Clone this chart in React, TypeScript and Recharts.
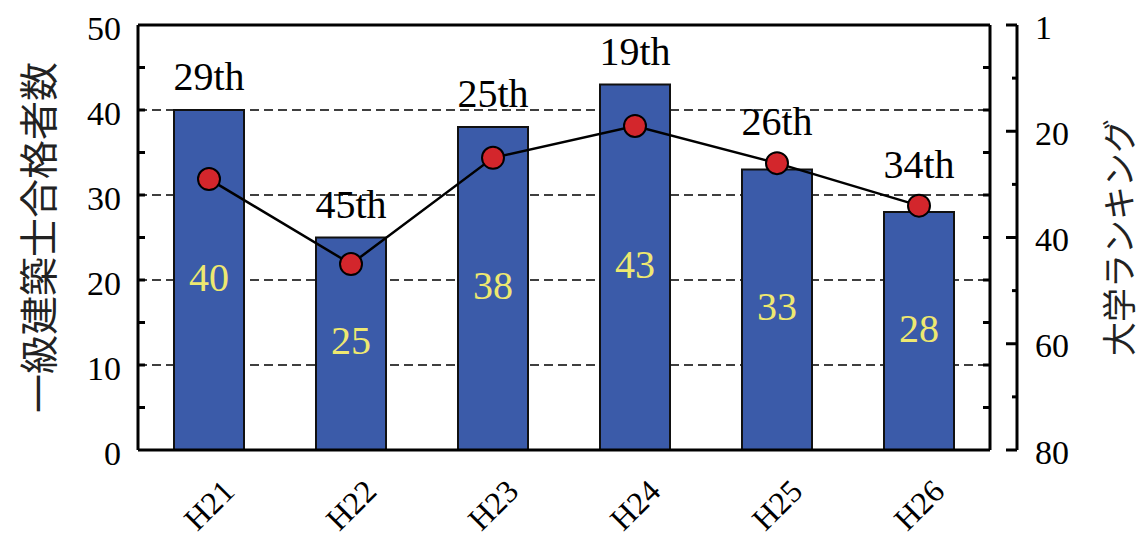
import React from 'react';
import {
  ComposedChart,
  Bar,
  Line,
  XAxis,
  YAxis,
  CartesianGrid,
  LabelList,
  ReferenceLine,
  Label,
} from 'recharts';

// ---- data ----
const years = ['H21', 'H22', 'H23', 'H24', 'H25', 'H26'];
const passers = [40, 25, 38, 43, 33, 28];
const ranks = [29, 45, 25, 19, 26, 34];
const rankLabels = ['29th', '45th', '25th', '19th', '26th', '34th'];

const leftTicks = [0, 5, 10, 15, 20, 25, 30, 35, 40, 45, 50];
const gridValues = [10, 20, 30, 40];
const rankTicks = [0, 10, 20, 30, 40, 50, 60, 70, 80];
const rankTickLabels: Record<number, string> = { 0: '1', 20: '20', 40: '40', 60: '60', 80: '80' };

const LEFT_MAX = 50;
const RANK_MAX = 80;

const leftTitle = '一級建築士合格者数';
const rightTitle = '大学ランキング';

const data = years.map((y, i) => ({ year: y, passers: passers[i], rank: ranks[i] }));

// ---- styles ----
const SERIF = "'Liberation Serif', 'DejaVu Serif', serif";
const CJK = "'Noto Sans CJK JP', sans-serif";
const BAR_FILL = '#3B5BA9';
const YELLOW = '#EEE870';
const RED = '#D3262C';
const MARKER_R = 11;

const serifStyle = (size: number): React.CSSProperties => ({ fontFamily: SERIF, fontSize: size });

const LeftTick = (props: any) => {
  const { x, y, payload } = props;
  const v = payload.value;
  const major = v % 10 === 0;
  return (
    <g>
      {v > 0 && v < LEFT_MAX && <line x1={x} x2={x + 7} y1={y} y2={y} stroke="#000" strokeWidth={3} />}
      {major && (
        <text x={x - 17} y={y + 3} textAnchor="end" dominantBaseline="central" style={serifStyle(34)} fill="#000">
          {v}
        </text>
      )}
    </g>
  );
};

const FrameRightTick = (props: any) => {
  const { x, y, payload } = props;
  const v = payload.value;
  if (v <= 0 || v >= LEFT_MAX) return <g />;
  return <line x1={x - 7} x2={x} y1={y} y2={y} stroke="#000" strokeWidth={3} />;
};

const RankTick = (props: any) => {
  const { x, y, payload } = props;
  const v = payload.value;
  const major = v % 20 === 0;
  const lbl = rankTickLabels[v];
  return (
    <g>
      <line x1={x - (major ? 11 : 5)} x2={x} y1={y} y2={y} stroke="#000" strokeWidth={3} />
      {lbl !== undefined && (
        <text x={x + 18} y={y + 2} textAnchor="start" dominantBaseline="central" style={serifStyle(34)} fill="#000">
          {lbl}
        </text>
      )}
    </g>
  );
};

const XTick = (props: any) => {
  const { x, y, payload } = props;
  const cy = y + 55;
  return (
    <text
      x={x}
      y={cy}
      textAnchor="middle"
      dominantBaseline="central"
      transform={`rotate(-45, ${x}, ${cy})`}
      style={serifStyle(32)}
      fill="#000"
    >
      {payload.value}
    </text>
  );
};

const ValueLabel = (props: any) => {
  const vb = props.viewBox ?? props;
  const x = vb.x;
  const w = vb.width;
  const y = Math.min(vb.y, vb.y + vb.height);
  const h = Math.abs(vb.height);
  return (
    <text x={x + w / 2} y={y + h / 2 - 3} textAnchor="middle" dominantBaseline="central" style={serifStyle(40)} fill={YELLOW}>
      {props.value}
    </text>
  );
};

const RankLabel = (props: any) => {
  const vb = props.viewBox ?? props;
  const i = props.index;
  const x = vb.x;
  const w = vb.width;
  const top = Math.min(vb.y, vb.y + vb.height);
  const h = Math.abs(vb.height);
  const value = passers[i];
  const ppu = h / value;
  const bottom = top + h;
  const plotH = LEFT_MAX * ppu;
  const plotTop = bottom - plotH;
  const markerY = plotTop + (ranks[i] / RANK_MAX) * plotH;
  const baseline = Math.min(top - 20, markerY - MARKER_R - 17);
  return (
    <text x={x + w / 2} y={baseline} textAnchor="middle" style={serifStyle(40)} fill="#000">
      {rankLabels[i]}
    </text>
  );
};

const LeftTitle = (props: any) => {
  const vb = props.viewBox;
  const cx = vb.x + 36;
  const cy = vb.y + vb.height / 2;
  return (
    <text x={cx} y={cy} textAnchor="middle" dominantBaseline="central" transform={`rotate(-90, ${cx}, ${cy})`} style={{ fontFamily: CJK, fontSize: 39 }} fill="#222">
      {leftTitle}
    </text>
  );
};

const RightTitle = (props: any) => {
  const vb = props.viewBox;
  const cx = vb.x + 100;
  const cy = vb.y + vb.height / 2;
  return (
    <text x={cx} y={cy} textAnchor="middle" dominantBaseline="central" transform={`rotate(-90, ${cx}, ${cy})`} style={{ fontFamily: CJK, fontSize: 34 }} fill="#222">
      {rightTitle}
    </text>
  );
};

export default function App() {
  return (
    <div style={{ position: 'absolute', left: 0, top: 0, width: 1142, height: 538, background: '#fff' }}>
      <ComposedChart width={1142} height={538} data={data} margin={{ top: 25, right: 0, bottom: 0, left: 0 }}>
        <CartesianGrid
          yAxisId="left"
          vertical={false}
          horizontalValues={gridValues}
          stroke="#000"
          strokeWidth={1.6}
          strokeDasharray="9 5"
        />
        <XAxis
          dataKey="year"
          height={88}
          axisLine={{ stroke: '#000', strokeWidth: 3 }}
          tickLine={false}
          tickSize={0}
          tickMargin={0}
          interval={0}
          tick={<XTick />}
        />
        <YAxis
          yAxisId="left"
          type="number"
          domain={[0, LEFT_MAX]}
          ticks={leftTicks}
          interval={0}
          width={138}
          axisLine={{ stroke: '#000', strokeWidth: 3 }}
          tickLine={false}
          tickSize={0}
          tickMargin={0}
          tick={<LeftTick />}
        >
          <Label content={<LeftTitle />} />
        </YAxis>
        <YAxis
          yAxisId="frameR"
          orientation="right"
          type="number"
          domain={[0, LEFT_MAX]}
          allowDataOverflow
          ticks={leftTicks}
          interval={0}
          width={27}
          axisLine={{ stroke: '#000', strokeWidth: 3 }}
          tickLine={false}
          tickSize={0}
          tickMargin={0}
          tick={<FrameRightTick />}
        />
        <YAxis
          yAxisId="rank"
          orientation="right"
          type="number"
          reversed
          domain={[0, RANK_MAX]}
          allowDataOverflow
          ticks={rankTicks}
          interval={0}
          width={125}
          axisLine={{ stroke: '#000', strokeWidth: 3 }}
          tickLine={false}
          tickSize={0}
          tickMargin={0}
          tick={<RankTick />}
        >
          <Label content={<RightTitle />} />
        </YAxis>
        <Bar yAxisId="left" dataKey="passers" fill={BAR_FILL} stroke="#111" strokeWidth={2} barSize={70} isAnimationActive={false}>
          <LabelList dataKey="passers" content={<ValueLabel />} />
          <LabelList dataKey="passers" content={<RankLabel />} />
        </Bar>
        <Line
          yAxisId="rank"
          dataKey="rank"
          type="linear"
          stroke="#000"
          strokeWidth={2.5}
          dot={{ r: MARKER_R, fill: RED, stroke: '#000', strokeWidth: 2 }}
          activeDot={false}
          isAnimationActive={false}
        />
        <ReferenceLine yAxisId="left" y={LEFT_MAX} stroke="#000" strokeWidth={3} />
      </ComposedChart>
    </div>
  );
}
